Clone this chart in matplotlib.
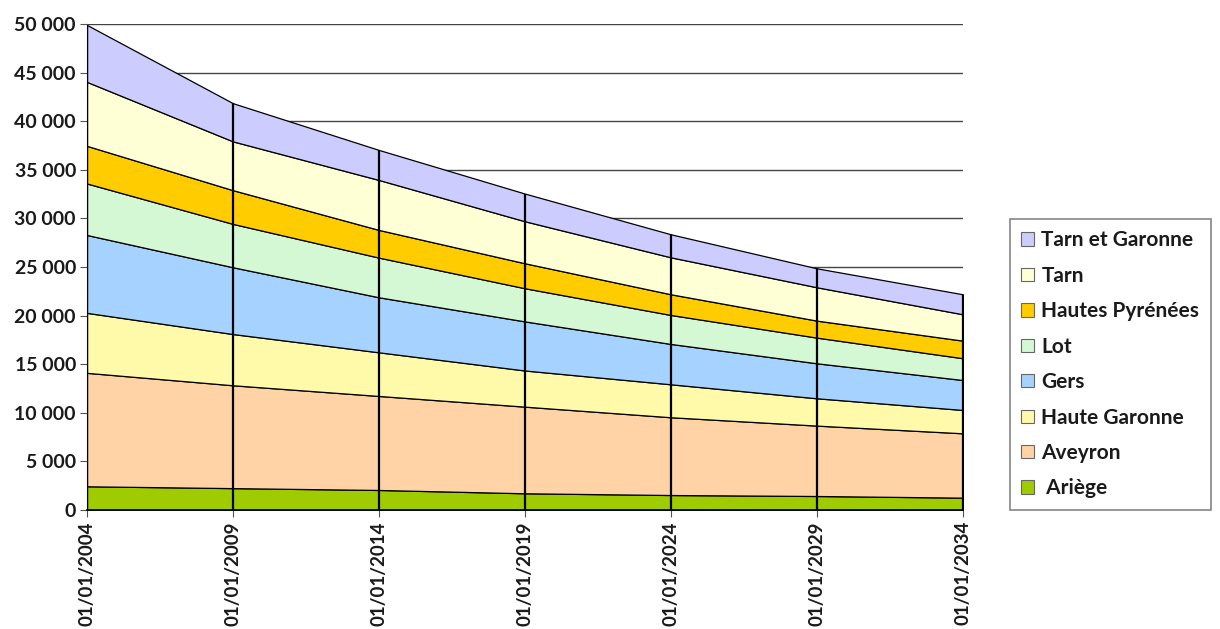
import matplotlib
matplotlib.use("Agg")
import matplotlib.pyplot as plt
from matplotlib.patches import Patch

plt.rcParams['font.family'] = ['Lato', 'DejaVu Sans']
plt.rcParams['font.weight'] = 'bold'

# Dates of the projection
dates = ["01/01/2004", "01/01/2009", "01/01/2014", "01/01/2019",
         "01/01/2024", "01/01/2029", "01/01/2034"]

# Values per département (stacked from bottom to top)
ariege = [2440, 2250, 2060, 1720, 1540, 1440, 1270]
aveyron = [11670, 10580, 9670, 8910, 8000, 7240, 6620]
haute_garonne = [6170, 5270, 4490, 3720, 3390, 2810, 2400]
gers = [8010, 6870, 5660, 5050, 4150, 3600, 3080]
lot = [5300, 4460, 4080, 3410, 2980, 2640, 2240]
hautes_pyrenees = [3870, 3470, 2850, 2570, 2130, 1750, 1810]
tarn = [6580, 5020, 5140, 4320, 3800, 3430, 2710]
tarn_et_garonne = [5860, 3930, 3090, 2850, 2370, 1950, 2060]

series = [ariege, aveyron, haute_garonne, gers, lot, hautes_pyrenees, tarn, tarn_et_garonne]
labels = [" Ariège", "Aveyron", "Haute Garonne", "Gers", "Lot",
          "Hautes Pyrénées", "Tarn", "Tarn et Garonne"]
colors = ["#9FCC00", "#FFD3A6", "#FFFAAA", "#A6D2FF", "#D4F8D4",
          "#FFCC00", "#FFFFD6", "#CCCCFF"]

fig = plt.figure(figsize=(12.2, 6.29), dpi=100)
ax = fig.add_axes([87 / 1220, 1 - 510 / 629, (963 - 87) / 1220, (510 - 24) / 629])

x = list(range(len(dates)))
ax.stackplot(x, *series, colors=colors, edgecolor="black", linewidth=0.9, zorder=2)

# vertical lines from the axis up to the total at each date
totals = [sum(vals) for vals in zip(*series)]
ax.vlines(x, 0, totals, color="black", linewidth=1.6, zorder=3)

ax.set_xlim(0, len(dates) - 1)
ax.set_ylim(0, 50000)
ax.set_yticks(range(0, 50001, 5000))
ax.set_yticklabels([f"{v:,}".replace(",", " ") for v in range(0, 50001, 5000)])
ax.set_xticks(x)
ax.set_xticklabels(dates, rotation=90, va="top", ha="center")

ax.set_axisbelow(True)
ax.yaxis.grid(True, color="#444444", linewidth=1.0, zorder=0)
for side in ["top", "right"]:
    ax.spines[side].set_visible(False)
ax.spines["left"].set_color("#555555")
ax.spines["bottom"].set_color("black")
ax.spines["bottom"].set_linewidth(1.2)
ax.tick_params(axis="y", labelsize=14, length=5, color="#555555", pad=3,
               labelcolor="#1a1a1a")
ax.tick_params(axis="x", labelsize=13.5, length=5, color="#555555", pad=3,
               labelcolor="#1a1a1a")

handles = [Patch(facecolor=c, edgecolor="#666666", linewidth=0.8) for c in colors]
leg = fig.legend(handles[::-1], labels[::-1], loc="upper left",
                 bbox_to_anchor=(1010 / 1220, 1 - 219 / 629),
                 prop={"size": 15, "weight": "bold"}, frameon=True, fancybox=False,
                 edgecolor="#666666", handlelength=0.6, handleheight=0.6,
                 handletextpad=0.35, labelspacing=0.74, borderpad=0.55,
                 borderaxespad=0)
leg.get_frame().set_linewidth(1.2)
for t in leg.get_texts():
    t.set_color("#1a1a1a")

fig.savefig("out.png", dpi=100)
